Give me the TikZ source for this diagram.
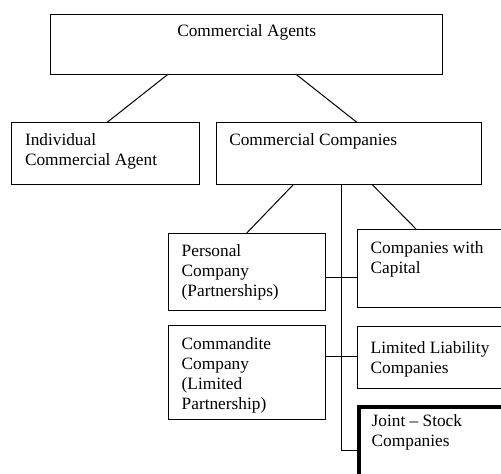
\documentclass[tikz,border=0pt]{standalone}
\usepackage{fontspec}
\setmainfont{Liberation Serif}
\usetikzlibrary{calc}
\newcommand{\boxtext}[1]{\begin{tabular}[t]{@{}l@{}}#1\end{tabular}}
\tikzset{
  box/.style={draw=black, line width=1pt, inner sep=0pt, outer sep=0pt, anchor=north west, fill=white},
  thickbox/.style={box, line width=3.4pt},
  txt/.style={inner sep=0pt, outer sep=0pt, anchor=base west, font=\fontsize{17.3}{20}\selectfont},
  conn/.style={draw=black, line width=1pt},
}
\begin{document}
\begin{tikzpicture}[x=1pt, y=-1pt]
\useasboundingbox (0,0) rectangle (501,474);
\clip (0,0) rectangle (501,474);
\fill[white] (0,0) rectangle (501,474);
% helper levels
\coordinate (y1) at (0,277.3);
\coordinate (y2) at (0,356);
\coordinate (y3) at (0,450.7);
% boxes
\node[box, minimum width=392pt, minimum height=59.3pt] (A) at (50.7,14.7) {};
\node[box, minimum width=187.6pt, minimum height=62pt] (B) at (11.7,122.7) {};
\node[box, minimum width=265pt, minimum height=62pt] (C) at (216.7,122.7) {};
\node[box, minimum width=156.5pt, minimum height=77pt] (P) at (168.5,233) {};
\node[box, minimum width=180pt, minimum height=78.7pt] (K) at (357.3,229) {};
\node[box, minimum width=156.5pt, minimum height=94pt] (M) at (168.5,325.5) {};
\node[box, minimum width=180pt, minimum height=61.5pt] (L) at (357.3,326.5) {};
\node[thickbox, minimum width=180pt, minimum height=100pt] (J) at (359,407) {};
% texts
\node[txt, anchor=base] (tA) at (246.7,36.7) {Commercial Agents};
\node[txt] (tB) at (25,145.7) {\boxtext{Individual\\Commercial Agent}};
\node[txt] (tC) at (229.3,145) {Commercial Companies};
\node[txt] (tP) at (181.7,256.3) {\boxtext{Personal\\Company\\(Partnerships)}};
\node[txt] (tK) at (370.7,253.3) {\boxtext{Companies with\\Capital}};
\node[txt] (tM) at (181.7,349.3) {\boxtext{Commandite\\Company\\(Limited\\Partnership)}};
\node[txt] (tL) at (370.7,353.3) {\boxtext{Limited Liability\\Companies}};
\node[txt] (tJ) at (371.7,426.3) {\boxtext{Joint -- Stock\\Companies}};
% connectors
\draw[conn] ([xshift=117.6pt]A.south west) -- ([xshift=95pt]B.north west);
\draw[conn] ([xshift=245pt]A.south west) -- ([xshift=140.6pt]C.north west);
\draw[conn] ([xshift=76.6pt]C.south west) -- (P.north);
\draw[conn] ([xshift=155.6pt]C.south west) -- ([xshift=58.7pt]K.north west);
\coordinate (ts) at ([xshift=124.3pt]C.south west);
\draw[conn] (ts) -- (ts |- y3) -- (J.west |- y3);
\draw[conn] (P.east |- y1) -- (K.west |- y1);
\draw[conn] (M.east |- y2) -- (L.west |- y2);
\end{tikzpicture}
\end{document}
